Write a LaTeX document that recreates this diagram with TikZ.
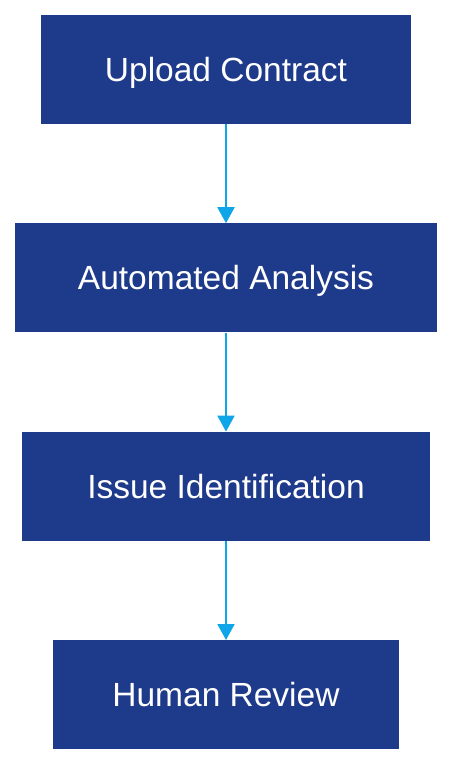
\documentclass[tikz,border=0pt]{standalone}
\usepackage{fontspec}
\setsansfont{Liberation Sans}
\definecolor{stageblue}{RGB}{30,58,138}
\definecolor{flowcyan}{RGB}{14,165,233}
\tikzset{every picture/.style={/utils/exec={\sffamily}}}
\usetikzlibrary{positioning}
\usetikzlibrary{arrows.meta}

\begin{document}
\begin{tikzpicture}[x=1pt,y=1pt,
  stage/.style={fill=stageblue, text=white, minimum height=109pt, inner sep=0pt,
    text height=24pt, text depth=0pt, font=\fontsize{33.5}{40}\selectfont},
  flow/.style={draw=flowcyan, line width=2pt, -{Triangle[length=16pt,width=17pt]}}]
  \useasboundingbox (0,0) rectangle (452,-764);

  \node [stage, minimum width=370pt] (upload) at (226,-69.5) {Upload Contract};
  \node [stage, minimum width=422pt, below=99pt of upload] (analysis) {Automated Analysis};
  \node [stage, minimum width=408pt, below=99pt of analysis] (issues) {Issue Identification};
  \node [stage, minimum width=346pt, below=99pt of issues] (review) {Human Review};

  \draw [flow] (upload) -- (analysis);
  \draw [flow] (analysis) -- (issues);
  \draw [flow] (issues) -- (review);
\end{tikzpicture}
\end{document}
